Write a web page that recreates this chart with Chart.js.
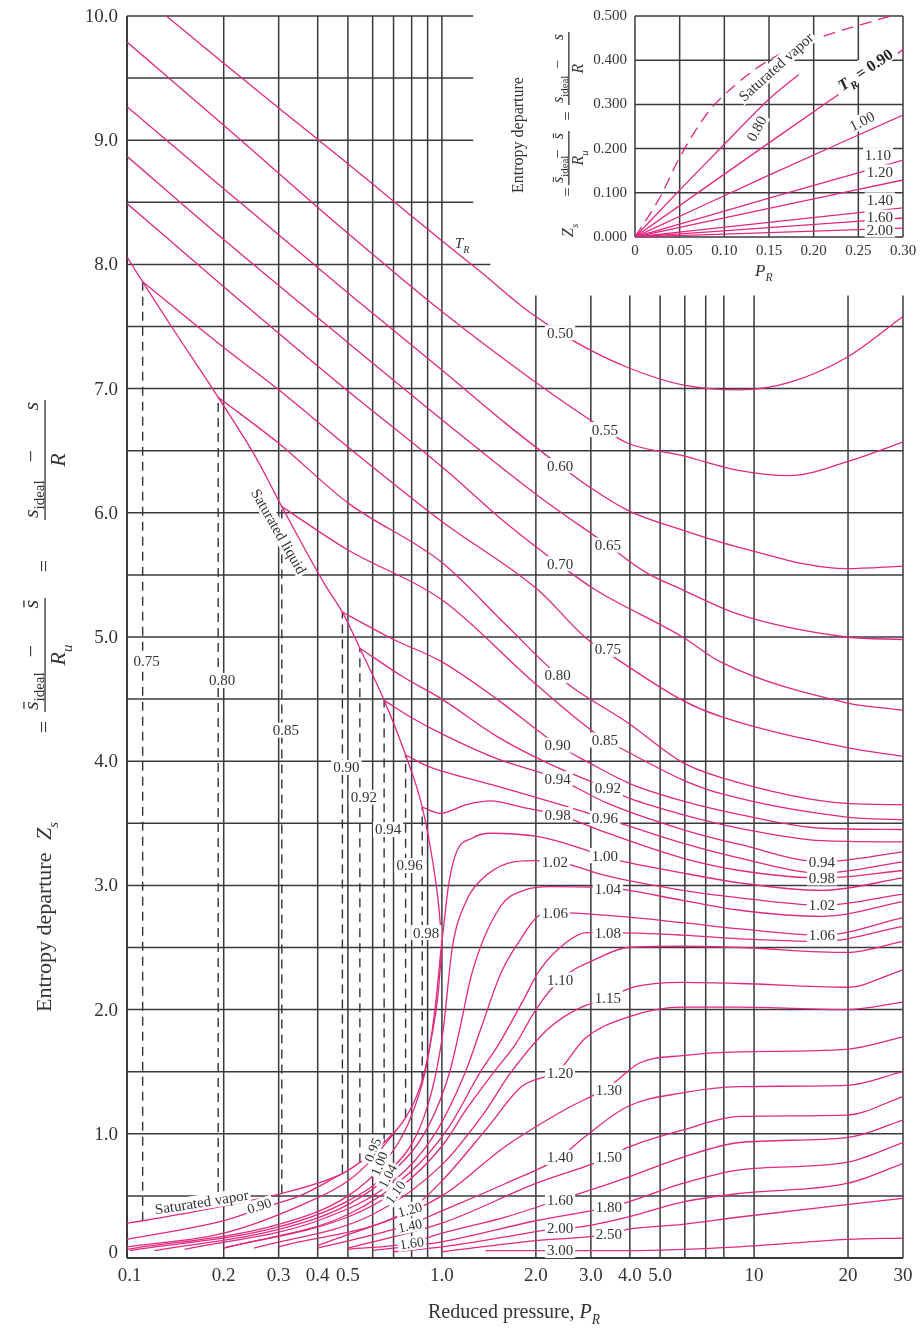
<!DOCTYPE html>
<html>
<head>
<meta charset="utf-8">
<script src="https://cdn.jsdelivr.net/npm/chart.js@4.4.1/dist/chart.umd.min.js"></script>
<style>
  html, body { margin: 0; padding: 0; background: #fff; }
  #wrap { position: relative; width: 920px; height: 1336px; }
  #main { position: absolute; left: 0; top: 0; }
  #inset { position: absolute; left: 480px; top: 0; }
</style>
</head>
<body>
<div id="wrap">
  <canvas id="main" width="920" height="1336"></canvas>
  <canvas id="inset" width="440" height="300"></canvas>
</div>
<script>
// ---- data: [reduced pressure P_R, entropy departure Z_s] ----

// compressed liquid / supercritical isotherms
const t050 = [[0.131,10.0],[0.2,9.62],[0.3,9.26],[0.5,8.81],[0.79,8.40],[1.0,8.19],[1.33,7.94],[1.92,7.61],[2.7,7.37],[3.94,7.17],[5.9,7.03],[9.0,6.99],[13,7.05],[19.8,7.25],[30,7.58]];
const t055 = [[0.098,9.79],[0.2,9.12],[0.5,8.25],[1.0,7.62],[1.95,7.07],[3.33,6.67],[3.94,6.56],[5.9,6.46],[9.0,6.34],[13,6.30],[19.8,6.41],[30,6.57]];
const t060 = [[0.098,9.27],[0.2,8.61],[0.5,7.77],[1.0,7.15],[1.6,6.72],[2.39,6.38],[3.0,6.2],[3.94,6.02],[5.9,5.86],[9.0,5.72],[19.8,5.55],[30,5.57]];
const t065 = [[0.098,8.87],[0.2,8.2],[0.5,7.37],[1.0,6.75],[2.0,6.15],[3.4,5.74],[4.5,5.52],[5.9,5.38],[9.0,5.18],[19.8,5.0],[30,4.98]];
const t070 = [[0.098,8.49],[0.2,7.82],[0.5,6.98],[1.0,6.37],[1.6,5.92],[2.39,5.58],[3.1,5.38],[5.9,5.0],[7.8,4.8],[19.8,4.47],[30,4.41]];
const t075 = [[0.110,7.86],[0.2,7.33],[0.3,6.99],[0.5,6.53],[1.0,5.93],[2.03,5.38],[2.9,4.99],[3.7,4.81],[5.9,4.49],[7.8,4.36],[19.8,4.11],[30,4.04]];
const t080 = [[0.192,6.93],[0.3,6.56],[0.5,6.08],[1.0,5.6],[1.6,5.1],[2.35,4.69],[2.6,4.6],[3.94,4.31],[5.9,3.99],[7.8,3.87],[19.8,3.66],[30,3.65]];
const t085 = [[0.307,6.05],[0.5,5.7],[1.0,5.3],[2.0,4.62],[3.33,4.17],[3.7,4.11],[5.9,3.85],[7.8,3.74],[19.8,3.55],[30,3.53]];
const t090 = [[0.48,5.2],[0.7,4.98],[1.0,4.8],[1.5,4.5],[2.35,4.13],[3.0,3.98],[4.0,3.82],[5.9,3.68],[9.0,3.57],[16.5,3.46],[30,3.45]];
const t092 = [[0.546,4.91],[0.75,4.68],[1.0,4.5],[1.5,4.2],[2.2,3.98],[3.4,3.78],[4.0,3.7],[5.9,3.57],[9.0,3.46],[16.5,3.36],[30,3.35]];
const t094 = [[0.653,4.49],[0.8,4.35],[1.0,4.22],[1.5,4.02],[2.35,3.86],[3.4,3.66],[5.9,3.45],[9.0,3.33],[16.5,3.19],[30,3.27]];
const t096 = [[0.765,4.05],[0.9,3.96],[1.0,3.92],[1.5,3.8],[2.4,3.65],[3.33,3.54],[5.9,3.34],[9.0,3.22],[16.5,3.1],[30,3.19]];
const t098 = [[0.865,3.63],[0.99,3.58],[1.2,3.65],[1.43,3.68],[1.8,3.63],[2.35,3.57],[3.4,3.42],[5.9,3.22],[9.0,3.12],[16.5,3.06],[30,3.12]];
const t100 = [[0.098,0.07],[0.3,0.27],[0.5,0.5],[0.65,0.76],[0.8,1.15],[0.9,1.6],[0.96,2.1],[0.99,2.45],[1.01,2.64],[1.05,3.0],[1.11,3.26],[1.25,3.38],[1.43,3.42],[2.06,3.39],[2.85,3.29],[3.33,3.23],[5.9,3.1],[9.0,3.02],[16.5,2.96],[30,3.06]];
const t102 = [[0.1,0.06],[0.3,0.25],[0.5,0.46],[0.68,0.7],[0.85,1.05],[0.95,1.45],[1.01,1.84],[1.08,2.5],[1.2,2.88],[1.33,3.04],[1.63,3.18],[1.95,3.2],[2.35,3.19],[3.33,3.08],[5.9,2.96],[9.0,2.9],[16.5,2.84],[30,2.93]];
const t104 = [[0.12,0.06],[0.3,0.23],[0.5,0.43],[0.68,0.67],[0.9,1.05],[1.06,1.5],[1.14,1.84],[1.25,2.3],[1.54,2.83],[1.83,2.96],[2.22,2.99],[3.4,2.98],[5.9,2.88],[9.0,2.8],[16.5,2.75],[30,2.87]];
const t106 = [[0.15,0.07],[0.4,0.3],[0.7,0.62],[0.95,1.0],[1.19,1.5],[1.33,1.84],[1.55,2.3],[1.78,2.56],[2.06,2.76],[2.35,2.78],[3.33,2.76],[5.9,2.7],[9.0,2.65],[16.5,2.6],[30,2.74]];
const t108 = [[0.2,0.08],[0.5,0.35],[0.8,0.7],[1.05,1.05],[1.33,1.5],[1.52,1.72],[1.8,2.05],[2.06,2.32],[2.5,2.54],[2.9,2.62],[3.4,2.62],[5.9,2.6],[9.0,2.57],[16.5,2.55],[30,2.67]];
const t110 = [[0.2,0.08],[0.5,0.33],[0.72,0.55],[1.0,0.9],[1.2,1.2],[1.47,1.5],[1.72,1.72],[2.0,2.0],[2.39,2.24],[3.2,2.42],[3.94,2.5],[5.9,2.51],[9.0,2.5],[19.8,2.46],[30,2.55]];
const t115 = [[0.25,0.08],[0.6,0.35],[1.0,0.75],[1.35,1.15],[1.67,1.5],[2.2,1.85],[2.8,2.02],[3.4,2.09],[4.1,2.18],[5.9,2.22],[9.0,2.21],[19.8,2.18],[30,2.32]];
const t120 = [[0.3,0.09],[0.79,0.39],[1.0,0.62],[1.4,1.05],[1.8,1.38],[2.39,1.52],[2.85,1.76],[3.94,1.94],[5.9,2.02],[9.0,2.02],[19.8,2.0],[30,2.06]];
const t130 = [[0.4,0.1],[1.0,0.5],[1.6,0.9],[2.5,1.2],[3.43,1.38],[4.3,1.57],[5.9,1.63],[9.0,1.66],[19.8,1.68],[30,1.78]];
const t140 = [[0.4,0.08],[0.79,0.27],[1.0,0.38],[1.6,0.6],[2.39,0.81],[2.85,0.97],[3.94,1.22],[5.9,1.33],[9.0,1.38],[19.8,1.39],[30,1.5]];
const t150 = [[0.5,0.08],[1.0,0.28],[2.0,0.6],[3.43,0.81],[3.94,0.89],[5.9,1.03],[9.0,1.14],[19.8,1.15],[30,1.3]];
const t160 = [[0.5,0.07],[0.79,0.12],[1.0,0.2],[1.6,0.33],[2.39,0.47],[2.77,0.52],[3.94,0.65],[5.9,0.81],[9.0,0.93],[19.8,0.97],[30,1.11]];
const t180 = [[0.6,0.06],[1.0,0.13],[2.0,0.3],[3.43,0.41],[3.94,0.45],[5.9,0.6],[9.0,0.71],[19.8,0.77],[30,0.93]];
const t200 = [[0.7,0.05],[1.0,0.09],[1.6,0.17],[2.39,0.24],[2.77,0.25],[3.94,0.33],[5.9,0.45],[9.0,0.52],[19.8,0.6],[30,0.76]];
const t250 = [[1.0,0.05],[2.0,0.14],[3.43,0.19],[3.94,0.23],[5.9,0.27],[9.0,0.33],[19.8,0.43],[30,0.48]];
const t300 = [[1.38,0.06],[3.94,0.06],[9.0,0.09],[19.8,0.15],[30,0.16]];

// superheated vapour isotherms below saturation
const t090vap = [[0.098,0.15],[0.2,0.3],[0.27,0.41],[0.35,0.5],[0.48,0.68]];
const t095vap = [[0.098,0.09],[0.2,0.2],[0.35,0.42],[0.5,0.62],[0.6,0.8],[0.7,1.0]];

// saturation dome
const satLiquid = [[0.098,8.06],[0.110,7.86],[0.136,7.5],[0.192,6.93],[0.253,6.45],[0.307,6.05],[0.42,5.43],[0.48,5.2],[0.546,4.91],[0.653,4.49],[0.765,4.05],[0.865,3.63],[0.94,3.15],[0.98,2.8],[1.0,2.5]];
const satVapor = [[0.098,0.28],[0.110,0.30],[0.192,0.41],[0.307,0.52],[0.48,0.68],[0.546,0.77],[0.653,0.93],[0.765,1.13],[0.865,1.43],[0.93,1.8],[0.97,2.1],[1.0,2.5]];

// two-phase tie lines (dashed): T_R, P_sat, Z_s vapour, Z_s liquid
const tieT = ['0.75','0.80','0.85','0.90','0.92','0.94','0.96','0.98'];
const tieP = [0.110, 0.192, 0.307, 0.48, 0.546, 0.653, 0.765, 0.865];
const tieZvap = [0.30, 0.41, 0.52, 0.68, 0.77, 0.93, 1.13, 1.43];
const tieZliq = [7.86, 6.93, 6.05, 5.2, 4.91, 4.49, 4.05, 3.63];
const tieTagZ = [4.81, 4.65, 4.25, 3.95, 3.71, 3.45, 3.16, 2.62];

// curve tags: text, P_R, Z_s
const curveTags = [
  ['0.50',2.39,7.45],['0.55',3.33,6.67],['0.60',2.39,6.38],['0.65',3.4,5.74],['0.70',2.39,5.59],
  ['0.75',3.4,4.90],['0.80',2.35,4.69],['0.85',3.33,4.17],['0.90',2.35,4.13],['0.92',3.4,3.78],
  ['0.94',2.35,3.86],['0.96',3.33,3.54],['0.98',2.35,3.57],['1.00',3.33,3.24],['1.02',2.3,3.19],
  ['1.04',3.4,2.97],['1.06',2.3,2.78],['1.08',3.4,2.62],['1.10',2.39,2.24],['1.15',3.4,2.09],
  ['1.20',2.39,1.49],['1.30',3.43,1.35],['1.40',2.39,0.81],['1.50',3.43,0.81],['1.60',2.39,0.47],
  ['1.80',3.43,0.41],['2.00',2.39,0.24],['2.50',3.43,0.19],['3.00',2.39,0.06],
  ['0.94',16.5,3.19],['0.98',16.5,3.06],['1.02',16.5,2.84],['1.06',16.5,2.60]
];
// tags on the low pressure vapour curves: text, P_R, Z_s, angle (deg)
const vapourTags = [
  ['0.90',0.26,0.42,-18],['0.95',0.6,0.87,-68],['1.00',0.63,0.76,-68],['1.04',0.67,0.66,-62],
  ['1.10',0.71,0.53,-55],['1.20',0.79,0.39,-15],['1.40',0.79,0.26,-12],['1.60',0.8,0.12,-8]
];

// axis ticks
const xTickVals = [0.1,0.2,0.3,0.4,0.5,1,2,3,4,5,10,20,30];
const xTickText = ['0.1','0.2','0.3','0.4','0.5','1.0','2.0','3.0','4.0','5.0','10','20','30'];
const yTickVals = [0,1,2,3,4,5,6,7,8,9,10];
const yTickText = ['0','1.0','2.0','3.0','4.0','5.0','6.0','7.0','8.0','9.0','10.0'];

// ---- inset: low pressure region, linear axes ----
const inSatVapor = [[0,0],[0.028,0.09],[0.05,0.18],[0.081,0.28],[0.11,0.34],[0.15,0.40],[0.2,0.446],[0.286,0.5]];
const in080 = [[0,0],[0.05,0.106],[0.1,0.21],[0.149,0.31],[0.183,0.367]];
const in090 = [[0,0],[0.15,0.213],[0.3,0.424]];
const in100 = [[0,0],[0.15,0.14],[0.3,0.276]];
const in110 = [[0,0],[0.15,0.088],[0.3,0.174]];
const in120 = [[0,0],[0.15,0.065],[0.3,0.129]];
const in140 = [[0,0],[0.15,0.033],[0.3,0.066]];
const in160 = [[0,0],[0.15,0.021],[0.3,0.043]];
const in200 = [[0,0],[0.15,0.010],[0.3,0.020]];
const inTags = [['1.10',0.272,0.186],['1.20',0.274,0.147],['1.40',0.274,0.084],['1.60',0.274,0.045],['2.00',0.274,0.016]];
const inXTicks = [0,0.05,0.10,0.15,0.20,0.25,0.30];
const inXText = ['0','0.05','0.10','0.15','0.20','0.25','0.30'];
const inYTicks = [0,0.1,0.2,0.3,0.4,0.5];
const inYText = ['0.000','0.100','0.200','0.300','0.400','0.500'];

// ---- styling ----
const PINK = '#e0287e';
const GRID = '#3a3a3a';
const INK = '#333';
const SERIF = '"Liberation Serif", "Times New Roman", serif';

const toXY = arr => arr.map(([x, y]) => ({ x, y }));
const curve = arr => ({
  data: toXY(arr), borderColor: PINK, borderWidth: 1.3, pointRadius: 0,
  fill: false, cubicInterpolationMode: 'monotone'
});

const mainCurves = [t050,t055,t060,t065,t070,t075,t080,t085,t090,t092,t094,t096,t098,
  t100,t102,t104,t106,t108,t110,t115,t120,t130,t140,t150,t160,t180,t200,t250,t300,
  t090vap,t095vap,satLiquid,satVapor];

const mainSets = mainCurves.map(curve);
tieP.forEach((p, i) => {
  mainSets.push({
    data: [{ x: p, y: tieZvap[i] }, { x: p, y: tieZliq[i] }],
    borderColor: INK, borderWidth: 1.4, borderDash: [9, 6], pointRadius: 0, tension: 0
  });
});

// text helpers
function tag(ctx, text, x, y, size, angle, bg) {
  ctx.save();
  ctx.translate(x, y);
  if (angle) ctx.rotate(angle * Math.PI / 180);
  ctx.font = size + 'px ' + SERIF;
  const w = ctx.measureText(text).width;
  if (bg !== false) {
    ctx.fillStyle = '#fff';
    ctx.fillRect(-w / 2 - 2, -size * 0.5, w + 4, size);
  }
  ctx.fillStyle = INK;
  ctx.textAlign = 'center';
  ctx.textBaseline = 'middle';
  ctx.fillText(text, 0, 1);
  ctx.restore();
}

const fontOf = (r, s) => (r.it ? 'italic ' : '') + (r.b ? 'bold ' : '') + s + 'px ' + SERIF;
function runsWidth(ctx, list, size) {
  let w = 0;
  list.forEach(r => {
    ctx.font = fontOf(r, r.sub ? size * 0.68 : size);
    w += ctx.measureText(r.t).width;
  });
  return w;
}
function runs(ctx, list, x, y, size) {
  ctx.textAlign = 'left';
  ctx.textBaseline = 'alphabetic';
  list.forEach(r => {
    const s = r.sub ? size * 0.68 : size;
    ctx.font = fontOf(r, s);
    const dy = r.sub ? size * 0.3 : 0;
    ctx.fillText(r.t, x, y + dy);
    const w = ctx.measureText(r.t).width;
    if (r.bar) ctx.fillRect(x + w * 0.15, y + dy - s * 0.66, w * 0.8, Math.max(1, s * 0.06));
    x += w;
  });
  return x;
}
// fraction with bar from u0 to u1; numerator spread across (left part, minus, right part)
function fractionAt(ctx, numL, numR, den, u0, u1, v, size) {
  const barY = v - size * 0.3;
  ctx.fillRect(u0, barY, u1 - u0, 1.3);
  const nb = barY - size * 0.3;
  runs(ctx, numL, u0 + 2, nb, size);
  runs(ctx, numR, u1 - 2 - runsWidth(ctx, numR, size), nb, size);
  const wm = runsWidth(ctx, [{ t: '\u2212' }], size);
  runs(ctx, [{ t: '\u2212' }], (u0 + u1) / 2 - wm / 2 + 4, nb, size);
  const wd = runsWidth(ctx, den, size);
  runs(ctx, den, (u0 + u1) / 2 - wd / 2, barY + size * 0.95, size);
}
function centred(ctx, text, u, v, size) {
  const w = runsWidth(ctx, [{ t: text }], size);
  runs(ctx, [{ t: text }], u - w / 2, v, size);
}
const sBar = [{ t: 's', it: 1, bar: 1 }, { t: 'ideal', sub: 1 }];
const sBarR = [{ t: 's', it: 1, bar: 1 }];
const sPlain = [{ t: 's', it: 1 }, { t: 'ideal', sub: 1 }];
const sPlainR = [{ t: 's', it: 1 }];
const denU = [{ t: 'R', it: 1 }, { t: 'u', it: 1, sub: 1 }];
const denR = [{ t: 'R', it: 1 }];

// ---- main chart decorations ----
const mainDecor = {
  id: 'mainDecor',
  beforeDatasetsDraw(chart) {
    const { ctx, scales: { x, y } } = chart;
    const X = v => x.getPixelForValue(v), Y = v => y.getPixelForValue(v);
    ctx.save();
    ctx.strokeStyle = GRID;
    ctx.lineWidth = 1.5;
    const line = (x0, y0, x1, y1) => { ctx.beginPath(); ctx.moveTo(x0, y0); ctx.lineTo(x1, y1); ctx.stroke(); };
    // horizontal grid
    for (let v = 0.5; v <= 7.5; v += 0.5) line(X(0.098), Y(v), X(30), Y(v));
    line(X(0.098), Y(8), X(1.43), Y(8));
    for (let v = 8.5; v <= 10; v += 0.5) line(X(0.098), Y(v), X(1.26), Y(v));
    // vertical grid
    [0.2,0.3,0.4,0.5,0.6,0.7,0.8,0.9,1].forEach(v => line(X(v), Y(0), X(v), Y(10)));
    [2,3,4,5,6,7,8,10,20,30].forEach(v => line(X(v), Y(0), X(v), Y(7.75)));
    // frame
    ctx.lineWidth = 2;
    line(X(0.098), Y(0), X(30), Y(0));
    line(X(0.098), Y(0), X(0.098), Y(10));
    ctx.restore();
  },
  afterDatasetsDraw(chart) {
    const { ctx, scales: { x, y } } = chart;
    const X = v => x.getPixelForValue(v), Y = v => y.getPixelForValue(v);
    curveTags.forEach(([t, p, z]) => tag(ctx, t, X(p), Y(z), 15));
    tieP.forEach((p, i) => tag(ctx, tieT[i], X(p) + 4, Y(tieTagZ[i]), 15));
    vapourTags.forEach(([t, p, z, a]) => tag(ctx, t, X(p), Y(z), 14, a));
    tag(ctx, 'Saturated liquid', X(0.3), Y(5.85), 15, 60);
    tag(ctx, 'Saturated vapor', X(0.17), Y(0.45), 15, -9);
    // T_R header
    ctx.save();
    ctx.fillStyle = INK;
    runs(ctx, [{ t: 'T', it: 1 }, { t: 'R', it: 1, sub: 1 }], X(1.1), Y(8.13), 15);
    ctx.restore();
  },
  afterDraw(chart) {
    const { ctx, scales: { x, y } } = chart;
    ctx.save();
    ctx.fillStyle = INK;
    ctx.font = '19px ' + SERIF;
    ctx.textAlign = 'center';
    ctx.textBaseline = 'middle';
    xTickVals.forEach((v, i) => ctx.fillText(xTickText[i], x.getPixelForValue(v), 1276));
    ctx.textAlign = 'right';
    yTickVals.forEach((v, i) => ctx.fillText(yTickText[i], 118, y.getPixelForValue(v) + (v === 0 ? -5 : 1)));
    // x title
    const xt = [{ t: 'Reduced pressure, ' }, { t: 'P', it: 1 }, { t: 'R', it: 1, sub: 1 }];
    const xw = runsWidth(ctx, xt, 20);
    runs(ctx, xt, 514 - xw / 2, 1318, 20);
    // y title, written bottom to top
    ctx.translate(51, 1012);
    ctx.rotate(-Math.PI / 2);
    runs(ctx, [{ t: 'Entropy departure' }], 0, 0, 22);
    runs(ctx, [{ t: 'Z', it: 1 }, { t: 's', it: 1, sub: 1 }], 172, 0, 22);
    centred(ctx, '=', 285, 0, 22);
    fractionAt(ctx, sBar, sBarR, denU, 300, 414, 0, 22);
    centred(ctx, '=', 446, 0, 22);
    fractionAt(ctx, sPlain, sPlainR, denR, 492, 612, 0, 22);
    ctx.restore();
  }
};

new Chart(document.getElementById('main'), {
  type: 'line',
  data: { datasets: mainSets },
  options: {
    responsive: false,
    animation: false,
    layout: { padding: { left: 127, right: 17, top: 16, bottom: 78 } },
    plugins: { legend: { display: false }, tooltip: { enabled: false } },
    scales: {
      x: { type: 'logarithmic', min: 0.098, max: 30, display: false },
      y: { type: 'linear', min: 0, max: 10, display: false }
    }
  },
  plugins: [mainDecor]
});

// ---- inset chart ----
const insetSets = [in090, in100, in110, in120, in140, in160, in200, in080].map(a => {
  const d = curve(a);
  d.cubicInterpolationMode = 'default';
  d.tension = 0.3;
  return d;
});
insetSets.push(Object.assign(curve(inSatVapor), { borderDash: [12, 7] }));

const insetDecor = {
  id: 'insetDecor',
  beforeDatasetsDraw(chart) {
    const { ctx, chartArea: a, scales: { x, y } } = chart;
    ctx.save();
    ctx.fillStyle = '#fff';
    ctx.fillRect(a.left, a.top, a.right - a.left, a.bottom - a.top);
    ctx.strokeStyle = GRID;
    ctx.lineWidth = 1.5;
    inXTicks.forEach(v => { ctx.beginPath(); ctx.moveTo(x.getPixelForValue(v), a.top); ctx.lineTo(x.getPixelForValue(v), a.bottom); ctx.stroke(); });
    inYTicks.forEach(v => { ctx.beginPath(); ctx.moveTo(a.left, y.getPixelForValue(v)); ctx.lineTo(a.right, y.getPixelForValue(v)); ctx.stroke(); });
    ctx.restore();
  },
  afterDatasetsDraw(chart) {
    const { ctx, scales: { x, y } } = chart;
    const X = v => x.getPixelForValue(v), Y = v => y.getPixelForValue(v);
    inTags.forEach(([t, p, z]) => tag(ctx, t, X(p), Y(z), 15));
    tag(ctx, 'Saturated vapor', X(0.158), Y(0.385), 15, -42);
    tag(ctx, '0.80', X(0.136), Y(0.245), 15, -62);
    tag(ctx, '1.00', X(0.254), Y(0.262), 15, -27);
    ctx.save();
    ctx.translate(X(0.258), Y(0.378));
    ctx.rotate(-34 * Math.PI / 180);
    ctx.fillStyle = '#fff';
    ctx.fillRect(-36, -12, 72, 19);
    ctx.fillStyle = '#222';
    const lbl = [{ t: 'T', it: 1, b: 1 }, { t: 'R', it: 1, b: 1, sub: 1 }, { t: ' = 0.90', b: 1 }];
    const w = runsWidth(ctx, lbl, 16);
    runs(ctx, lbl, -w / 2, 5, 16);
    ctx.restore();
  },
  afterDraw(chart) {
    const { ctx, scales: { x, y } } = chart;
    ctx.save();
    ctx.fillStyle = INK;
    ctx.font = '15px ' + SERIF;
    ctx.textAlign = 'center';
    ctx.textBaseline = 'middle';
    inXTicks.forEach((v, i) => ctx.fillText(inXText[i], x.getPixelForValue(v), 251));
    ctx.textAlign = 'right';
    inYTicks.forEach((v, i) => ctx.fillText(inYText[i], 147, y.getPixelForValue(v)));
    runs(ctx, [{ t: 'P', it: 1 }, { t: 'R', it: 1, sub: 1 }], 275, 276, 17);
    // y title
    ctx.save();
    ctx.translate(43, 193);
    ctx.rotate(-Math.PI / 2);
    runs(ctx, [{ t: 'Entropy departure' }], 0, 0, 16);
    ctx.restore();
    ctx.translate(93, 237);
    ctx.rotate(-Math.PI / 2);
    runs(ctx, [{ t: 'Z', it: 1 }, { t: 's', it: 1, sub: 1 }], 0, 0, 16);
    centred(ctx, '=', 45, 0, 16);
    fractionAt(ctx, sBar, sBarR, denU, 52, 106, 0, 16);
    centred(ctx, '=', 121, 0, 16);
    fractionAt(ctx, sPlain, sPlainR, denR, 132, 205, 0, 16);
    ctx.restore();
  }
};

new Chart(document.getElementById('inset'), {
  type: 'line',
  data: { datasets: insetSets },
  options: {
    responsive: false,
    animation: false,
    layout: { padding: { left: 155, right: 17, top: 16, bottom: 63 } },
    plugins: { legend: { display: false }, tooltip: { enabled: false } },
    scales: {
      x: { type: 'linear', min: 0, max: 0.3, display: false },
      y: { type: 'linear', min: 0, max: 0.5, display: false }
    }
  },
  plugins: [insetDecor]
});
</script>
</body>
</html>
